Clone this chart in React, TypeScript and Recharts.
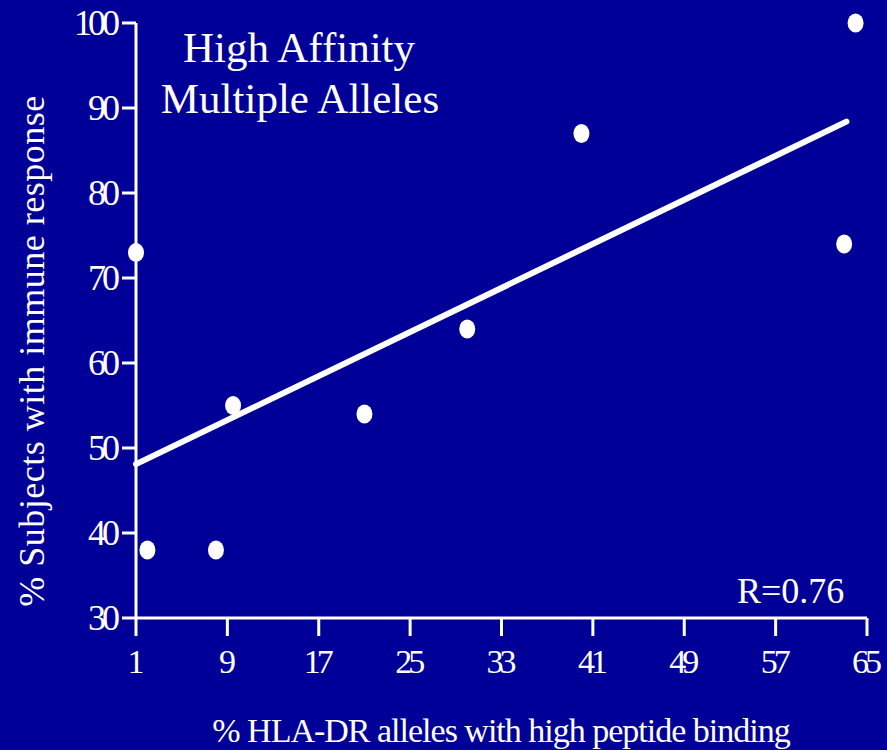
import { ComposedChart, Scatter, Line, XAxis, YAxis } from "recharts";

const BG = "#000099";
const FONT = "'Liberation Serif', 'Times New Roman', serif";

// observed points: % HLA-DR alleles (x) vs % subjects responding (y)
const xValues = [1, 2, 8, 9.5, 21, 30, 40, 63, 64];
const yValues = [73, 38, 38, 55, 54, 64, 87, 74, 100];

// regression line end points as drawn
const fitX = [1, 63.2];
const fitY = [48.1, 88.4];

const xTicks = [1, 9, 17, 25, 33, 41, 49, 57, 65];
const yTicks = [30, 40, 50, 60, 70, 80, 90, 100];

const points = xValues.map((x, i) => ({ x, y: yValues[i] }));
const fitLine = fitX.map((x, i) => ({ x, y: fitY[i] }));

function Dot(props: any) {
  const { cx, cy } = props;
  return <ellipse cx={cx} cy={cy} rx={8} ry={9.5} fill="#fff" />;
}

function YTick({ x, y, payload }: any) {
  return (
    <text
      x={x - 4}
      y={y}
      dy={12}
      textAnchor="end"
      fill="#fff"
      fontSize={36}
      letterSpacing={-4}
      fontFamily={FONT}
    >
      {payload.value}
    </text>
  );
}

function XTick({ x, y, payload }: any) {
  return (
    <text
      x={x - 2}
      y={y}
      dy={37}
      textAnchor="middle"
      fill="#fff"
      fontSize={34}
      letterSpacing={-4}
      fontFamily={FONT}
    >
      {payload.value}
    </text>
  );
}

export default function App() {
  return (
    <div
      style={{
        position: "absolute",
        left: 0,
        top: 0,
        width: 887,
        height: 750,
        background: BG,
        overflow: "hidden",
      }}
    >
      <ComposedChart
        width={887}
        height={750}
        margin={{ top: 23, right: 20, bottom: 72, left: 56 }}
      >
        <XAxis
          type="number"
          dataKey="x"
          domain={[1, 65]}
          ticks={xTicks}
          interval={0}
          height={60}
          axisLine={{ stroke: "#fff", strokeWidth: 3 }}
          tickLine={{ stroke: "#fff", strokeWidth: 3 }}
          tickSize={18}
          tickMargin={0}
          tick={<XTick />}
        />
        <YAxis
          type="number"
          dataKey="y"
          domain={[30, 100]}
          ticks={yTicks}
          interval={0}
          width={80}
          axisLine={{ stroke: "#fff", strokeWidth: 3 }}
          tickLine={{ stroke: "#fff", strokeWidth: 3 }}
          tickSize={14}
          tickMargin={2}
          tick={<YTick />}
        />
        <Line
          data={fitLine}
          dataKey="y"
          type="linear"
          stroke="#fff"
          strokeWidth={6}
          strokeLinecap="round"
          dot={false}
          activeDot={false}
          isAnimationActive={false}
        />
        <Scatter
          data={points}
          dataKey="y"
          shape={<Dot />}
          isAnimationActive={false}
        />
      </ComposedChart>

      {/* titles and labels */}
      <svg
        width={887}
        height={750}
        style={{ position: "absolute", left: 0, top: 0, pointerEvents: "none" }}
        fontFamily={FONT}
        fill="#fff"
      >
        <text x={299} y={62} textAnchor="middle" fontSize={43}>
          High Affinity
        </text>
        <text x={300} y={113} textAnchor="middle" fontSize={43}>
          Multiple Alleles
        </text>
        <text x={737} y={603} fontSize={36}>
          R=0.76
        </text>
        <text x={501} y={742} textAnchor="middle" fontSize={34} letterSpacing={-1}>
          % HLA-DR alleles with high peptide binding
        </text>
        <text
          x={44}
          y={351}
          textAnchor="middle"
          fontSize={36}
          letterSpacing={0.5}
          transform="rotate(-90 44 351)"
        >
          % Subjects with immune response
        </text>
      </svg>
    </div>
  );
}
